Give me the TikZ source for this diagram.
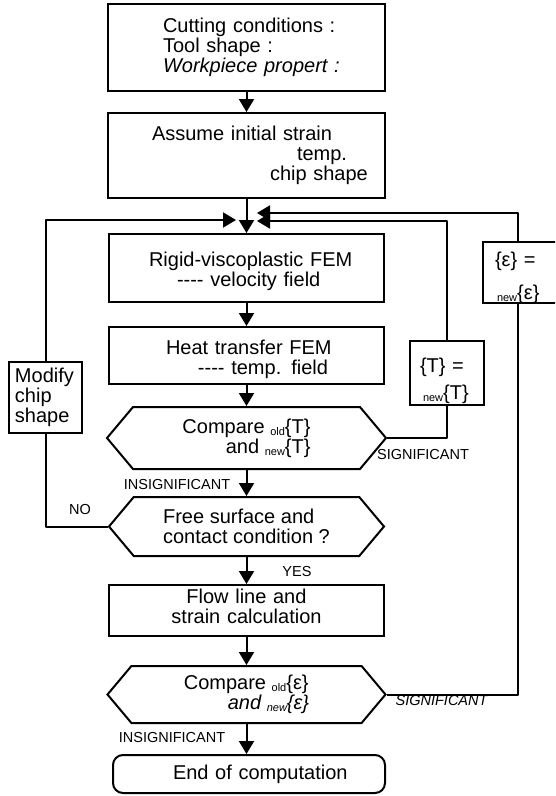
\documentclass[tikz,border=0pt]{standalone}
\usepackage{fontspec}
\setmainfont{Liberation Sans}
\usetikzlibrary{arrows.meta,shapes.symbols}
\newcommand{\pfx}[1]{{\fontsize{11}{11}\selectfont\raisebox{-2pt}{#1}}}
\newcommand{\dn}[2]{\raisebox{-#1}[\height][\depth]{#2}}
\begin{document}
\begin{tikzpicture}[x=1pt,y=-1pt,
  every node/.style={font=\fontsize{20}{20}\selectfont},
  stepbox/.style={draw=drawColor,line width=2pt,inner sep=0pt,align=left},
  hexbox/.style={draw=drawColor,line width=2pt,shape=signal,signal to=west and east,signal pointer angle=100,inner sep=0pt},
  flow/.style={draw=drawColor,line width=2pt,line join=round,-{Triangle[width=15pt,length=13pt]}},
  link/.style={draw=drawColor,line width=2pt,line join=round},
  tag/.style={font=\fontsize{14.5}{14.5}\selectfont,inner sep=0pt}]
\definecolor{fillColor}{RGB}{255,255,255}
\definecolor{drawColor}{RGB}{0,0,0}
\path[use as bounding box,fill=fillColor] (0,0) rectangle (555,796);
\clip (0,0) rectangle (555,796);

\node[stepbox,text width=277pt,minimum height=87pt] (input) at (246.5,47.5) {\hspace*{55pt}Cutting conditions :\\\hspace*{55pt}Tool shape :\\\hspace*{55pt}\textit{Workpiece propert :}};
\node[stepbox,text width=277pt,minimum height=85pt] (assume) at (246.5,155.5) {\hspace*{44pt}Assume initial strain\\\hspace*{189pt}temp.\\\hspace*{162pt}chip shape};
\node[stepbox,text width=275pt,minimum height=68pt] (fem) at (246.5,268) {\dn{3pt}{\hspace*{40pt}Rigid-viscoplastic FEM}\\\dn{3pt}{\hspace*{68pt}-{}-{}-{}- velocity field}};
\node[stepbox,text width=275pt,minimum height=57pt] (heat) at (246.5,355.5) {\dn{4pt}{\hspace*{57pt}Heat transfer FEM}\\\dn{4pt}{\hspace*{89pt}-{}-{}-{}- temp. field}};
\node[hexbox,minimum width=279pt,minimum height=62pt,align=right] (cmpT) at (246.5,438) {Compare \pfx{old}\{T\}\\and \pfx{new}\{T\}};
\node[hexbox,minimum width=275pt,minimum height=59pt,align=left] (surf) at (246.5,526.5) {Free surface and\\contact condition ?};
\node[stepbox,text width=275pt,minimum height=51pt,align=center] (strain) at (246.5,610.5) {\dn{-4pt}{Flow line and}\\\dn{-4pt}{strain calculation}};
\node[hexbox,minimum width=278pt,minimum height=57pt,align=left] (cmpE) at (246.5,694.5) {Compare \pfx{old}\{ε\}\\\hspace*{44pt}\textit{and \pfx{new}\{ε\}}};
\node[stepbox,rounded corners=10pt,text width=272pt,minimum height=38pt] (done) at (249,774) {\hspace*{60pt}End of computation};

\node[stepbox,text width=73pt,minimum height=71pt] (modify) at (45.5,397.5) {\hspace*{6pt}Modify\\\hspace*{6pt}chip\\\hspace*{6pt}shape};
\node[stepbox,text width=74pt,minimum height=64pt] (newT) at (447,373) {\dn{8pt}{\hspace*{10pt}\{T\} =}\\[7pt]\dn{8pt}{\hspace*{13pt}\pfx{new}\{T\}}};
\node[stepbox,text width=80pt,minimum height=61pt] (newE) at (523,272.5) {\dn{5.5pt}{\hspace*{12pt}\{ε\} =}\\[13pt]\dn{5.5pt}{\hspace*{14pt}\pfx{new}\{ε\}}};

\node[tag] (insigT) at (177,485) {INSIGNIFICANT};
\node[tag] (sigT) at (423,455) {SIGNIFICANT};
\node[tag] (no) at (80,510) {NO};
\node[tag] (yes) at (297,571) {YES};
\node[tag] (insigE) at (172,737) {INSIGNIFICANT};
\node[tag] (sigE) at (442,700) {\textit{SIGNIFICANT}};

\coordinate (inL) at (236,220);
\coordinate (inT) at (257,221);
\coordinate (inE) at (257,213);
\coordinate (eX) at (518,0);

\draw[flow] (input.south) -- (input.south |- assume.north);
\draw[flow] (assume.south) -- (assume.south |- fem.north);
\draw[flow] (fem.south) -- (fem.south |- heat.north);
\draw[flow] (heat.south) -- (heat.south |- cmpT.north);
\draw[flow] (cmpT.south) -- (cmpT.south |- surf.north);
\draw[flow] (surf.south) -- (surf.south |- strain.north);
\draw[flow] (strain.south) -- (strain.south |- cmpE.north);
\draw[flow] (cmpE.south) -- (cmpE.south |- done.north);

\draw[link] (cmpT.east) -| (newT.south);
\draw[flow] (newT.north) |- (inT);
\draw[link] (cmpE.east) -| (eX |- newE.south);
\draw[flow] (eX |- newE.north) |- (inE);
\draw[link] (surf.west) -| (modify.south);
\draw[flow] (modify.north) |- (inL);
\end{tikzpicture}
\end{document}
